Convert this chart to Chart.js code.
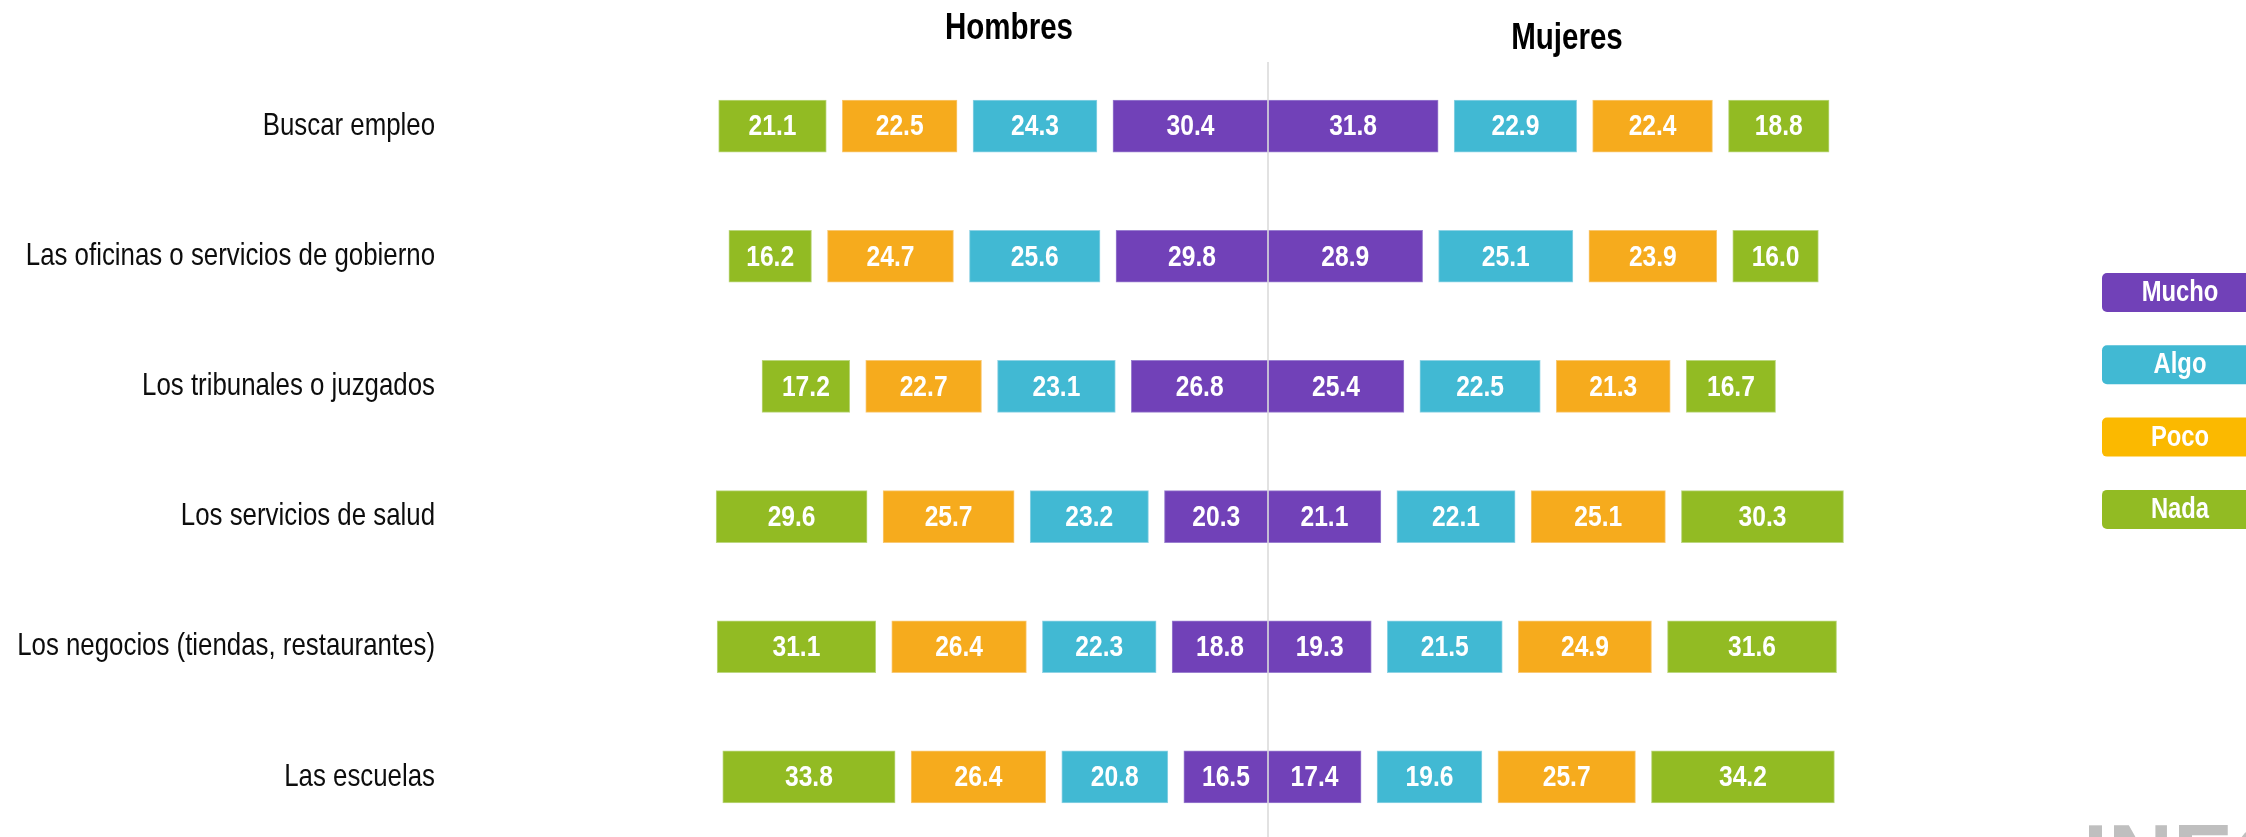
<!DOCTYPE html>
<html>
<head>
<meta charset="utf-8">
<script src="https://cdn.jsdelivr.net/npm/chart.js@4/dist/chart.umd.min.js"></script>
<style>
html, body { margin: 0; padding: 0; background: #fff; overflow: hidden; width: 2246px; height: 837px; }
canvas { position: absolute; top: 0; }
#men { left: 0; }
#women { left: 1258px; }
</style>
</head>
<body>
<canvas id="men" width="1268" height="850"></canvas>
<canvas id="women" width="988" height="850"></canvas>
<script>
const categories = [
    'Buscar empleo',
    'Las oficinas o servicios de gobierno',
    'Los tribunales o juzgados',
    'Los servicios de salud',
    'Los negocios (tiendas, restaurantes)',
    'Las escuelas'
];
const levels = ['Mucho', 'Algo', 'Poco', 'Nada'];

const menMucho = [30.4, 29.8, 26.8, 20.3, 18.8, 16.5];
const menAlgo  = [24.3, 25.6, 23.1, 23.2, 22.3, 20.8];
const menPoco  = [22.5, 24.7, 22.7, 25.7, 26.4, 26.4];
const menNada  = [21.1, 16.2, 17.2, 29.6, 31.1, 33.8];

const womenMucho = [31.8, 28.9, 25.4, 21.1, 19.3, 17.4];
const womenAlgo  = [22.9, 25.1, 22.5, 22.1, 21.5, 19.6];
const womenPoco  = [22.4, 23.9, 21.3, 25.1, 24.9, 25.7];
const womenNada  = [18.8, 16.0, 16.7, 30.3, 31.6, 34.2];

const barColors    = ['#7141b8', '#41b9d3', '#f6ab1d', '#92bb23'];
const borderColors = ['#9a7fd0', '#8fd3e5', '#f9c975', '#bcd77f'];
const legendColors = ['#7141b8', '#41b9d3', '#fbb900', '#92bb23'];

// the original uses a narrow face; squeeze the regular one if narrow is missing
const probe = document.createElement('canvas').getContext('2d');
probe.font = '30px "Liberation Sans Narrow", monospace';
const wNarrow = probe.measureText('Buscar empleo').width;
probe.font = '30px monospace';
const hasNarrow = Math.abs(wNarrow - probe.measureText('Buscar empleo').width) > 0.5;
const FAMILY = hasNarrow ? '"Liberation Sans Narrow", "Liberation Sans", Arial, sans-serif' : '"Liberation Sans", Arial, sans-serif';
const SQUEEZE = hasNarrow ? 1 : 0.82;

function drawText(ctx, text, x, y, size, bold, align) {
    ctx.save();
    ctx.font = (bold ? 'bold ' : '') + size + 'px ' + FAMILY;
    ctx.textAlign = align;
    ctx.translate(x, y);
    ctx.scale(SQUEEZE, 1);
    ctx.fillText(text, 0, 0);
    ctx.restore();
}

// px per unit differs a bit between the two halves in the original
const MEN_AREA = 808, MEN_K = 5.10;
const WOMEN_AREA = 690, WOMEN_K = 5.35;
const GAP_PX = 16;

function floating(series, gap) {
    const out = series.map(() => []);
    categories.forEach((_, r) => {
        let pos = 0;
        series.forEach((s, i) => {
            out[i].push([pos, pos + s[r]]);
            pos += s[r] + gap;
        });
    });
    return out;
}

function buildDatasets(series, gap) {
    const bars = floating(series, gap);
    return series.map((s, i) => ({
        label: levels[i],
        data: bars[i],
        values: s,
        backgroundColor: barColors[i],
        borderColor: borderColors[i],
        borderWidth: 1,
        borderSkipped: false,
        grouped: false,
        barThickness: 52
    }));
}

const valueLabels = {
    id: 'valueLabels',
    afterDatasetsDraw(chart) {
        const ctx = chart.ctx;
        ctx.save();
        ctx.fillStyle = '#ffffff';
        ctx.textBaseline = 'middle';
        chart.data.datasets.forEach((ds, i) => {
            chart.getDatasetMeta(i).data.forEach((bar, j) => {
                drawText(ctx, ds.values[j].toFixed(1), (bar.x + bar.base) / 2, bar.y + 1, 30, true, 'center');
            });
        });
        ctx.restore();
    }
};

const menExtras = {
    id: 'menExtras',
    afterDraw(chart) {
        const ctx = chart.ctx;
        const y = chart.scales.y;
        ctx.save();
        ctx.fillStyle = '#000';
        ctx.textBaseline = 'alphabetic';
        drawText(ctx, 'Hombres', 1009, 39, 36, true, 'center');

        // category names, right aligned
        ctx.fillStyle = '#0d0d0d';
        ctx.textBaseline = 'middle';
        categories.forEach((c, i) => {
            drawText(ctx, c, 435, y.getPixelForValue(i), 31.5, false, 'right');
        });
        ctx.restore();
    }
};

const womenExtras = {
    id: 'womenExtras',
    afterDraw(chart) {
        const ctx = chart.ctx;
        const a = chart.chartArea;
        ctx.save();
        // center line
        ctx.strokeStyle = '#d9d9d9';
        ctx.lineWidth = 1.5;
        ctx.beginPath();
        ctx.moveTo(a.left, 62);
        ctx.lineTo(a.left, chart.height);
        ctx.stroke();

        ctx.fillStyle = '#000';
        ctx.textBaseline = 'alphabetic';
        drawText(ctx, 'Mujeres', 1567 - 1258, 49, 36, true, 'center');

        // legend boxes on the right edge
        const x0 = 2102 - 1258;
        levels.forEach((lv, i) => {
            const top = 273 + i * 72.3;
            ctx.fillStyle = legendColors[i];
            ctx.beginPath();
            ctx.roundRect(x0, top, 160, 39, 5);
            ctx.fill();
            ctx.fillStyle = '#fff';
            ctx.textBaseline = 'middle';
            drawText(ctx, lv, 2180 - 1258, top + 20, 29, true, 'center');
        });

        // logo watermark, cut by the bottom edge
        ctx.fillStyle = '#bfbfbf';
        ctx.font = 'bold 90px "Liberation Sans", Arial, sans-serif';
        ctx.textAlign = 'left';
        ctx.textBaseline = 'alphabetic';
        ctx.fillText('INEGI', 2083 - 1258, 823 + 65);
        ctx.restore();
    }
};

function baseOptions(xScale, padding) {
    return {
        responsive: false,
        animation: false,
        indexAxis: 'y',
        layout: { padding: padding },
        plugins: { legend: { display: false }, tooltip: { enabled: false } },
        scales: { x: xScale, y: { display: false } }
    };
}

new Chart(document.getElementById('men').getContext('2d'), {
    type: 'bar',
    data: {
        labels: categories,
        datasets: buildDatasets([menMucho, menAlgo, menPoco, menNada], GAP_PX / MEN_K)
    },
    options: baseOptions(
        { display: false, reverse: true, min: 0, max: MEN_AREA / MEN_K },
        { top: 61, bottom: 8, left: 1268 - MEN_AREA, right: 0 }
    ),
    plugins: [valueLabels, menExtras]
});

new Chart(document.getElementById('women').getContext('2d'), {
    type: 'bar',
    data: {
        labels: categories,
        datasets: buildDatasets([womenMucho, womenAlgo, womenPoco, womenNada], GAP_PX / WOMEN_K)
    },
    options: baseOptions(
        { display: false, min: 0, max: WOMEN_AREA / WOMEN_K },
        { top: 61, bottom: 8, left: 10, right: 988 - 10 - WOMEN_AREA }
    ),
    plugins: [valueLabels, womenExtras]
});
</script>
</body>
</html>
